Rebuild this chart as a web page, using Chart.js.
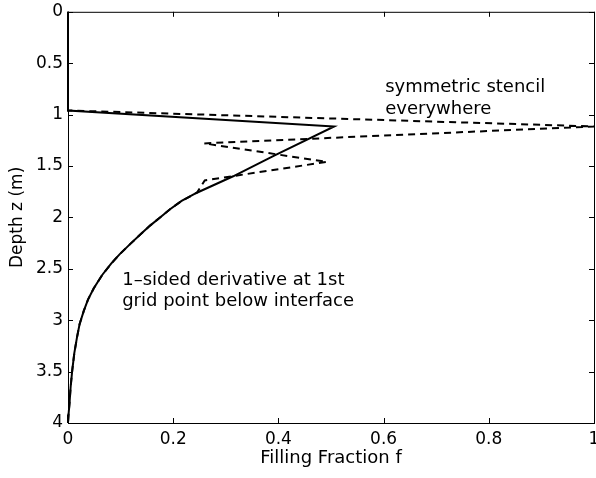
<!DOCTYPE html>
<html>
<head>
<meta charset="utf-8">
<script src="https://cdn.jsdelivr.net/npm/chart.js@4.4.1/dist/chart.umd.min.js"></script>
<style>
  html, body { margin: 0; padding: 0; background: #fff; overflow: hidden; }
  canvas { display: block; }
</style>
</head>
<body>
<canvas id="fillChart" width="610" height="478"></canvas>
<script>
// values
const xTicks = [0, 0.2, 0.4, 0.6, 0.8, 1]
const yTicks = [0, 0.5, 1, 1.5, 2, 2.5, 3, 3.5, 4]

// 1-sided derivative (solid)
const depthSolid = [0, 0.96, 1.115, 1.40, 1.60, 1.76, 1.84, 1.92, 2.00, 2.08, 2.16, 2.26, 2.36, 2.45, 2.56, 2.69, 2.80, 2.91, 3.04, 3.17, 3.32, 3.49, 3.65, 3.80, 3.92, 4.00]
const fracSolid = [0, 0, 0.506, 0.392, 0.314, 0.245, 0.216, 0.194, 0.175, 0.156, 0.139, 0.118, 0.098, 0.082, 0.065, 0.049, 0.038, 0.030, 0.022, 0.017, 0.012, 0.008, 0.005, 0.003, 0.001, 0]

// symmetric stencil everywhere (dashed)
const depthDashed = [0, 0.96, 1.115, 1.28, 1.46, 1.64, 1.76, 1.84, 1.92, 2.00, 2.08, 2.16, 2.26, 2.36, 2.45, 2.56, 2.69, 2.80, 2.91, 3.04, 3.17, 3.32, 3.49, 3.65, 3.80, 3.92, 4.00]
const fracDashed = [0, 0, 1.0, 0.259, 0.492, 0.26, 0.245, 0.216, 0.194, 0.175, 0.156, 0.139, 0.118, 0.098, 0.082, 0.065, 0.049, 0.038, 0.030, 0.022, 0.017, 0.012, 0.008, 0.005, 0.003, 0.001, 0]

const notes = [
  { lines: ['symmetric stencil', 'everywhere'], f: 0.603, depth: [0.78, 0.99] },
  { lines: ['1\u2013sided derivative at 1st', 'grid point below interface'], f: 0.103, depth: [2.66, 2.865] }
]

const FONT = 'DejaVu Sans'

function toPoints(xs, ys) {
  return xs.map((x, i) => ({ x: x, y: ys[i] }))
}

// matlab style box, inward ticks and text labels
const axesBox = {
  id: 'axesBox',
  afterDraw(chart) {
    const { ctx, chartArea: a, scales } = chart
    const tl = 5
    ctx.save()
    ctx.strokeStyle = '#000'
    ctx.lineWidth = 1
    ctx.strokeRect(a.left + 0.5, a.top + 0.5, a.right - a.left, a.bottom - a.top)
    ctx.beginPath()
    xTicks.forEach((v) => {
      const px = Math.round(scales.x.getPixelForValue(v)) + 0.5
      ctx.moveTo(px, a.bottom); ctx.lineTo(px, a.bottom - tl)
      ctx.moveTo(px, a.top); ctx.lineTo(px, a.top + tl)
    })
    yTicks.forEach((v) => {
      const py = Math.round(scales.y.getPixelForValue(v)) + 0.5
      ctx.moveTo(a.left, py); ctx.lineTo(a.left + tl, py)
      ctx.moveTo(a.right, py); ctx.lineTo(a.right - tl, py)
    })
    ctx.stroke()

    ctx.fillStyle = '#000'
    ctx.font = '18px "' + FONT + '"'
    ctx.textAlign = 'left'
    ctx.textBaseline = 'alphabetic'
    notes.forEach((n) => {
      const px = scales.x.getPixelForValue(n.f)
      n.lines.forEach((t, i) => {
        ctx.fillText(t, px, scales.y.getPixelForValue(n.depth[i]))
      })
    })
    ctx.restore()
  }
}

const ctx = document.getElementById('fillChart')

new Chart(ctx, {
  type: 'scatter',
  data: {
    datasets: [
      {
        label: 'symmetric stencil everywhere',
        data: toPoints(fracDashed, depthDashed),
        showLine: true,
        borderColor: '#000',
        borderWidth: 2,
        borderDash: [7, 5],
        pointRadius: 0,
        clip: 4
      },
      {
        label: '1-sided derivative',
        data: toPoints(fracSolid, depthSolid),
        showLine: true,
        borderColor: '#000',
        borderWidth: 2,
        pointRadius: 0,
        clip: 4
      }
    ]
  },
  options: {
    responsive: false,
    animation: false,
    layout: { padding: { top: 7, right: 16, left: 0, bottom: 0 } },
    plugins: {
      legend: { display: false },
      tooltip: { enabled: false }
    },
    scales: {
      x: {
        type: 'linear',
        min: 0,
        max: 1,
        afterBuildTicks: (scale) => { scale.ticks = xTicks.map((v) => ({ value: v })) },
        afterFit: (scale) => { scale.height = 55 },
        grid: { display: false, drawTicks: false },
        border: { display: false },
        ticks: {
          color: '#000',
          padding: 6,
          maxRotation: 0,
          callback: (v) => String(v),
          font: { family: FONT, size: 17 }
        },
        title: {
          display: true,
          text: 'Filling Fraction f',
          color: '#000',
          padding: { top: 0, bottom: 9 },
          font: { family: FONT, size: 18 }
        }
      },
      y: {
        type: 'linear',
        reverse: true,
        min: 0,
        max: 4,
        afterBuildTicks: (scale) => { scale.ticks = yTicks.map((v) => ({ value: v })) },
        afterFit: (scale) => { scale.width = 68 },
        grid: { display: false, drawTicks: false },
        border: { display: false },
        ticks: {
          color: '#000',
          padding: 5,
          callback: (v) => String(v),
          font: { family: FONT, size: 17, lineHeight: 0.8 }
        },
        title: {
          display: true,
          text: 'Depth z (m)',
          color: '#000',
          padding: { top: 7, bottom: 0 },
          font: { family: FONT, size: 17 }
        }
      }
    }
  },
  plugins: [axesBox]
})
</script>
</body>
</html>
